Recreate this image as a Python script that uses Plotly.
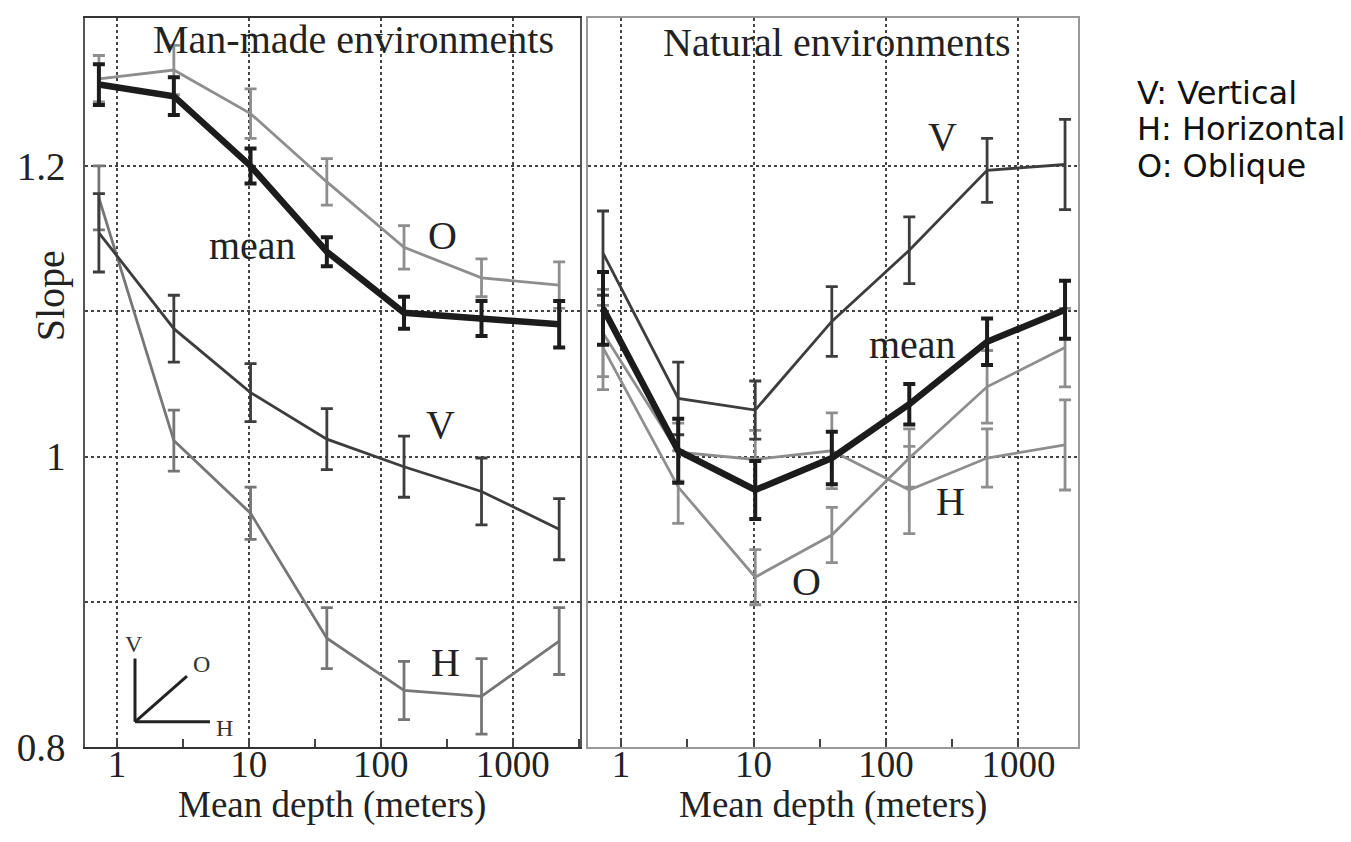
import plotly.graph_objects as go

# ---------------- data ----------------
depth = [0.73, 2.7, 10.3, 39, 150, 580, 2250]

man_mean = [1.256, 1.248, 1.200, 1.141, 1.099, 1.095, 1.091]
man_mean_err = [0.014, 0.013, 0.012, 0.010, 0.011, 0.012, 0.016]
man_O = [1.260, 1.266, 1.236, 1.189, 1.144, 1.123, 1.118]
man_O_err = [0.016, 0.017, 0.017, 0.016, 0.015, 0.013, 0.016]
man_V = [1.154, 1.088, 1.044, 1.012, 0.993, 0.976, 0.950]
man_V_err = [0.027, 0.023, 0.020, 0.021, 0.021, 0.023, 0.021]
man_H = [1.178, 1.011, 0.961, 0.875, 0.839, 0.835, 0.873]
man_H_err = [0.022, 0.021, 0.018, 0.021, 0.020, 0.026, 0.023]

nat_mean = [1.102, 1.004, 0.977, 0.999, 1.036, 1.079, 1.101]
nat_mean_err = [0.025, 0.022, 0.020, 0.018, 0.014, 0.016, 0.020]
nat_V = [1.140, 1.040, 1.032, 1.093, 1.142, 1.197, 1.201]
nat_V_err = [0.029, 0.025, 0.020, 0.024, 0.023, 0.022, 0.031]
nat_O = [1.075, 0.979, 0.917, 0.946, 0.999, 1.048, 1.075]
nat_O_err = [0.029, 0.025, 0.019, 0.019, 0.020, 0.025, 0.027]
nat_H = [1.085, 1.003, 0.998, 1.004, 0.977, 0.999, 1.008]
nat_H_err = [0.030, 0.020, 0.020, 0.026, 0.030, 0.020, 0.031]

x_tickvals = [1, 10, 100, 1000]
x_ticktext = ["1", "10", "100", "1000"]
x_minor = [3.162, 31.62, 316.2, 3162]
y_tickvals = [0.8, 0.9, 1.0, 1.1, 1.2]
y_ticktext = ["0.8", "", "1", "", "1.2"]

x_title = "Mean depth (meters)"
y_title = "Slope"
legend_lines = ["V: Vertical", "H: Horizontal", "O: Oblique"]

# ---------------- styles ----------------
W, H = 1351, 842
SERIF = "Liberation Serif, Times New Roman, serif"
C_MEAN = "#1c1c1c"
C_V = "#3d3d3d"
C_O = "#8e8e8e"
C_H_MAN = "#767676"
C_H_NAT = "#8e8e8e"


def px(x):
    return x / W


def py(y):
    return 1 - y / H


fig = go.Figure()


def add_series(y, err, color, lw, ew, xa, ya):
    fig.add_trace(go.Scatter(
        x=depth, y=y, mode="lines", xaxis=xa, yaxis=ya,
        line=dict(color=color, width=lw),
        error_y=dict(type="data", array=err, color=color, thickness=ew, width=6),
        showlegend=False, hoverinfo="skip"))


# Man-made
add_series(man_O, man_O_err, C_O, 2.8, 2.8, "x", "y")
add_series(man_H, man_H_err, C_H_MAN, 2.8, 2.8, "x", "y")
add_series(man_V, man_V_err, C_V, 2.8, 2.8, "x", "y")
add_series(man_mean, man_mean_err, C_MEAN, 6.5, 4, "x", "y")
# Natural
add_series(nat_O, nat_O_err, C_O, 2.8, 2.8, "x2", "y2")
add_series(nat_H, nat_H_err, C_H_NAT, 2.8, 2.8, "x2", "y2")
add_series(nat_V, nat_V_err, C_V, 2.8, 2.8, "x2", "y2")
add_series(nat_mean, nat_mean_err, C_MEAN, 6.5, 4, "x2", "y2")

xtickfont = dict(family=SERIF, size=37, color="#222")
ytickfont = dict(family=SERIF, size=39, color="#222")
common_x = dict(
    type="log", tickmode="array", tickvals=x_tickvals, ticktext=x_ticktext,
    ticks="inside", ticklen=8, tickwidth=1.5, tickfont=xtickfont,
    ticklabelstandoff=-16,
    showgrid=True, griddash="dot", gridcolor="#444", gridwidth=1.5,
    showline=True, mirror=True, zeroline=False,
    minor=dict(tickmode="array", tickvals=x_minor, ticks="inside",
               ticklen=8, tickwidth=1.5, showgrid=False),
)
common_y = dict(
    range=[0.8, 1.302], tickmode="array", tickvals=y_tickvals,
    ticks="", showgrid=True, griddash="dot", gridcolor="#444", gridwidth=1.5,
    showline=True, mirror=True, zeroline=False, tickfont=ytickfont,
)

fig.update_layout(
    width=W, height=H, margin=dict(l=0, r=0, t=0, b=0),
    paper_bgcolor="white", plot_bgcolor="white",
    xaxis=dict(common_x, domain=[px(77), px(572)], range=[-0.242, 3.51],
               linecolor="#333", linewidth=1.5, anchor="y"),
    yaxis=dict(common_y, domain=[py(759), py(10)], ticktext=y_ticktext,
               showticklabels=True, ticklabelstandoff=10,
               linecolor="#555", linewidth=1.5, anchor="x"),
    xaxis2=dict(common_x, domain=[px(580), px(1070)], range=[-0.25, 3.45],
                linecolor="#999", linewidth=1.5, anchor="y2"),
    yaxis2=dict(common_y, domain=[py(759), py(10)], showticklabels=False,
                linecolor="#999", linewidth=1.5, anchor="x2"),
)

ann_font = dict(family=SERIF, size=40, color="#222")
anns = [
    ("Man-made environments", 1.79, 1.287, "x", "y"),
    ("mean", 1.03, 1.145, "x", "y"),
    ("O", 2.47, 1.152, "x", "y"),
    ("V", 2.45, 1.022, "x", "y"),
    ("H", 2.49, 0.858, "x", "y"),
    ("Natural environments", 1.63, 1.285, "x2", "y2"),
    ("V", 2.43, 1.220, "x2", "y2"),
    ("mean", 2.20, 1.077, "x2", "y2"),
    ("H", 2.49, 0.969, "x2", "y2"),
    ("O", 1.40, 0.914, "x2", "y2"),
]
for text, ax, ay, xr, yr in anns:
    fig.add_annotation(text=text, x=ax, y=ay, xref=xr, yref=yr, showarrow=False,
                       font=ann_font, xanchor="center", yanchor="middle")

# axis titles
title_font = dict(family=SERIF, size=37, color="#222")
for xc in (324, 825):
    fig.add_annotation(text=x_title, x=px(xc), y=py(818), xref="paper", yref="paper",
                       showarrow=False, font=title_font, xanchor="center", yanchor="middle")
fig.add_annotation(text=y_title, x=px(42), y=py(296), xref="paper", yref="paper",
                   showarrow=False, textangle=-90, font=ann_font,
                   xanchor="center", yanchor="middle")

# orientation inset (decoration)
inset_line = dict(color="#222", width=3)
fig.add_shape(type="line", x0=px(127), y0=py(668), x1=px(127), y1=py(733),
              xref="paper", yref="paper", line=inset_line)
fig.add_shape(type="line", x0=px(127), y0=py(733), x1=px(202), y1=py(733),
              xref="paper", yref="paper", line=inset_line)
fig.add_shape(type="line", x0=px(127), y0=py(733), x1=px(179), y1=py(686),
              xref="paper", yref="paper", line=inset_line)
small_font = dict(family=SERIF, size=24, color="#333")
for t, x, y in [("V", 126, 653), ("O", 193, 674), ("H", 217, 739)]:
    fig.add_annotation(text=t, x=px(x), y=py(y), xref="paper", yref="paper",
                       showarrow=False, font=small_font, xanchor="center", yanchor="middle")

# legend text
leg_font = dict(family="DejaVu Sans, Verdana, sans-serif", size=32, color="#111")
for i, t in enumerate(legend_lines):
    fig.add_annotation(text=t, x=px(1127), y=py(87 + 37.5 * i), xref="paper", yref="paper",
                       showarrow=False, font=leg_font, xanchor="left", yanchor="middle")

fig.write_html("out.html")
